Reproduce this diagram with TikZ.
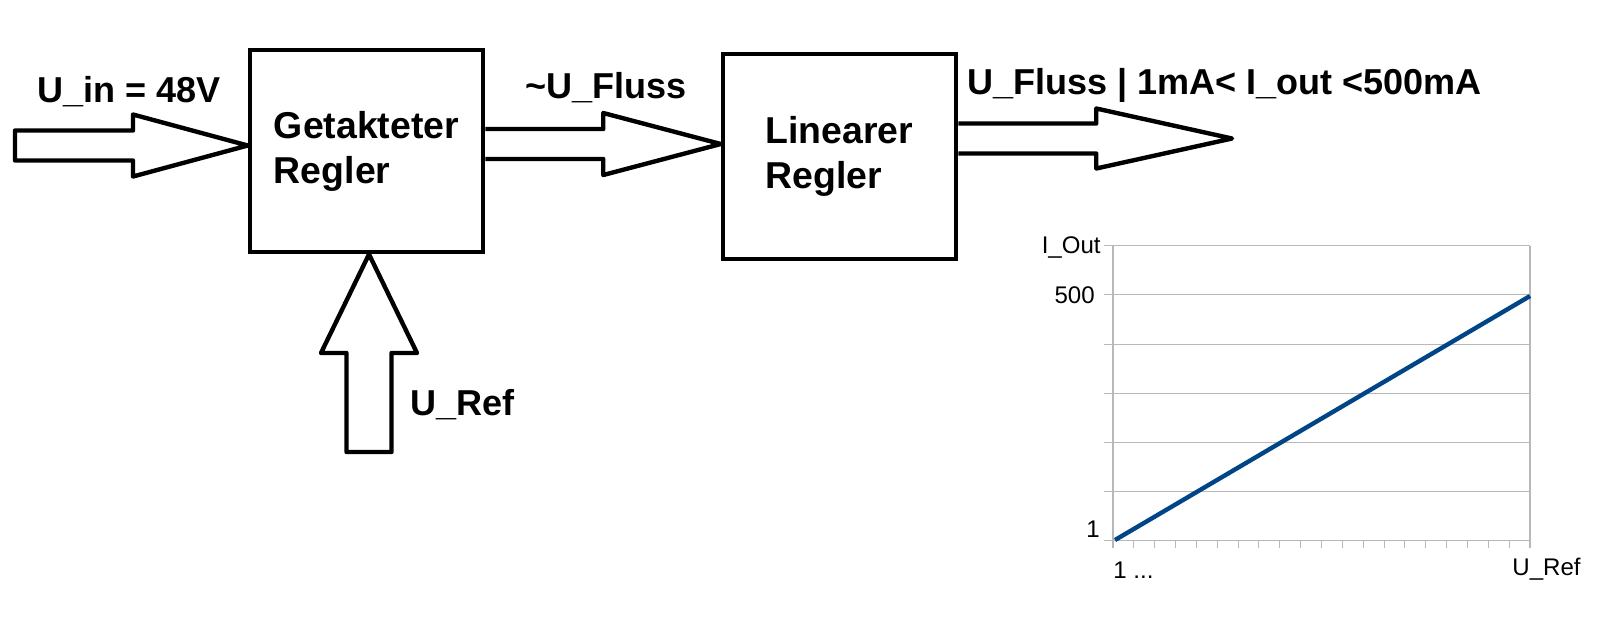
\documentclass[tikz,border=0pt]{standalone}
\usepackage{fontspec}
\setmainfont{Liberation Sans}
\usetikzlibrary{calc}
\definecolor{plotblue}{HTML}{004586}
\begin{document}
\begin{tikzpicture}[x=0.02cm,y=-0.02cm,
	block/.style={draw,line width=2.6pt,minimum width=4.66cm,minimum height=4.04cm,align=left,inner sep=0pt,font=\bfseries\fontsize{21.3}{25.6}\selectfont},
	lbl/.style={inner sep=0pt,font=\bfseries\fontsize{20.5}{25}\selectfont},
	fatarrow/.style={line width=2.5pt,line join=round},
	gridline/.style={draw=black!28,line width=0.6pt},
	axlbl/.style={inner sep=0pt,font=\fontsize{13.7}{16}\selectfont}]
	\useasboundingbox (0,0) rectangle (1622,620);
	%方框
	\node[block] (getakt) at (366.5,151) {Getakteter\\Regler};
	\node[block,minimum height=4.1cm] (linear) at (839.5,156.5) {Linearer\\Regler};
	%箭头
	\coordinate (pin) at (15,145.5);
	\coordinate (y2) at (0,144);
	\coordinate (pout) at (1232,138.5);
	\coordinate (pref) at (369,452);
	\draw[fatarrow] (pin) ++(0,-15) -- ++(118,0) -- ++(0,-16) -- (getakt.west |- pin)
		-- ($(pin)+(118,31)$) -- ++(0,-16) -- ++(-118,0) -- cycle;
	\draw[fatarrow] (getakt.east |- y2) ++(0,-15) -- ++(118,0) -- ++(0,-16) -- (linear.west |- y2)
		-- ($(getakt.east |- y2)+(118,31)$) -- ++(0,-16) -- ++(-118,0);
	\draw[fatarrow] (linear.east |- pout) ++(0,-15) -- ++(138,0) -- ++(0,-15) -- (pout)
		-- ($(linear.east |- pout)+(138,30)$) -- ++(0,-15) -- ++(-138,0);
	\draw[fatarrow] (pref) ++(-22.5,0) -- ++(0,-99) -- ++(-25.5,0) -- (getakt.south -| pref)
		-- ($(pref)+(48,-99)$) -- ++(-25.5,0) -- ++(0,99) -- cycle;
	%文字
	\node[lbl,anchor=base west] (uin) at (37,102) {U\_in = 48V};
	\node[lbl,anchor=base west] (ufl) at (525,98) {\textasciitilde U\_Fluss};
	\node[lbl,anchor=base west] (uout) at (967,94) {U\_Fluss | 1mA< I\_out <500mA};
	\node[lbl,anchor=base west] (uref) at (410,415) {U\_Ref};
	%图表
	\foreach \k in {0,...,6}
		\draw[gridline] (1104,{245.7+49.2*\k}) -- (1530,{245.7+49.2*\k});
	\draw[gridline] (1113,245.7) -- (1113,548);
	\draw[gridline] (1530,245.7) -- (1530,548);
	\foreach \i in {1,...,19}
		\draw[gridline] ({1113+20.85*\i},541) -- ({1113+20.85*\i},548);
	\draw[line width=2.5pt,draw=plotblue] (1115,540) -- (1530,296);
	\node[axlbl,anchor=base east] (iout) at (1101,253) {I\_Out};
	\node[axlbl,anchor=base east] (y500) at (1095,303) {500};
	\node[axlbl,anchor=base east] (y1) at (1100,537) {1};
	\node[axlbl,anchor=base west] (x1) at (1113,578) {1 ...};
	\node[axlbl,anchor=base west] (xref) at (1512,575) {U\_Ref};
\end{tikzpicture}
\end{document}
